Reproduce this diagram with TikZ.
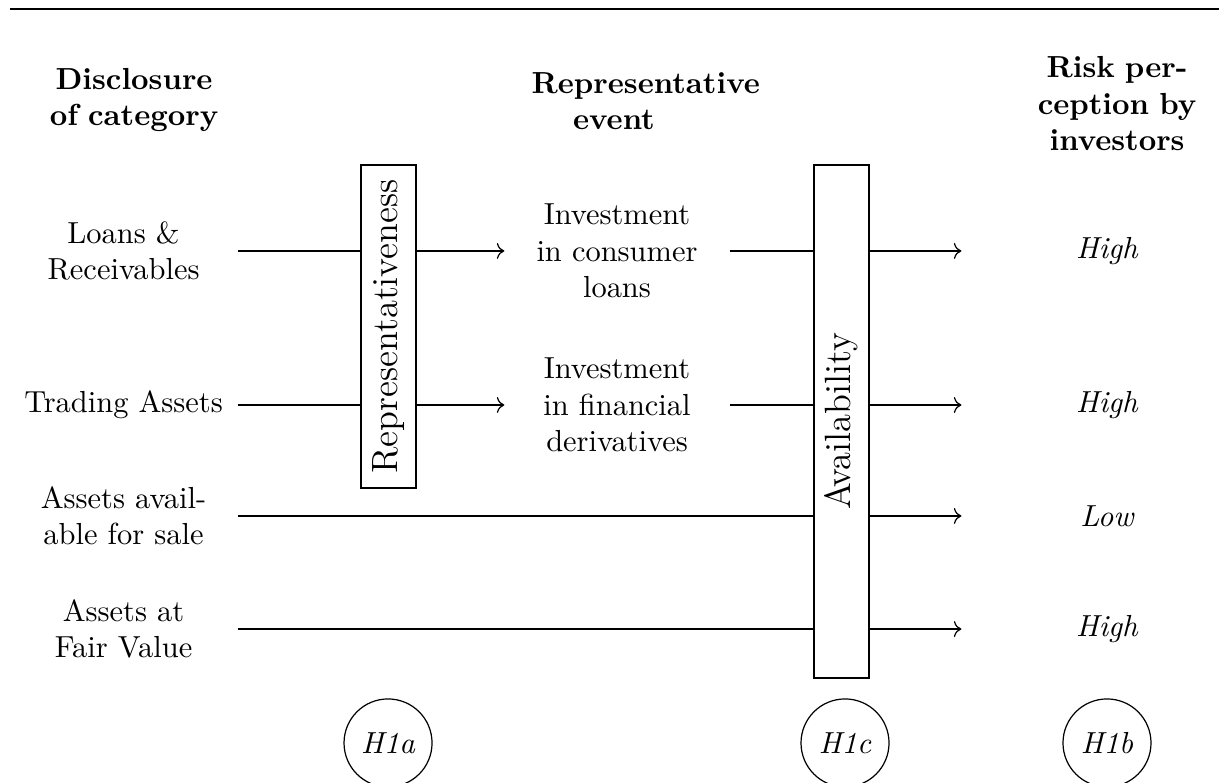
\documentclass[tikz,border=0pt]{standalone}
\usepackage{amsmath,amssymb}
\usepackage{tikz}
\usetikzlibrary{positioning,arrows.meta,calc}

\begin{document}
\begin{tikzpicture}[
    head/.style={text width=1.9cm, align=center, font=\bfseries},
    cat/.style={align=center, minimum width=2.62cm},
    event/.style={align=center, minimum width=2.586cm},
    val/.style={font=\itshape, minimum width=3.347cm},
    bias/.style={draw, rotate=90, font=\large, inner ysep=3.5pt, minimum height=0.635cm},
    hyp/.style={draw, circle, font=\itshape, minimum size=1.016cm, inner sep=1pt}
  ]
  \useasboundingbox (0,0) rectangle (14.071,-9.038);
  \draw (0.115,-0.104) -- (14.071,-0.104);

  % column heads
  \node[head, text width=2.2cm] (hcat) at (1.547,-1.154) {Disclosure\\of category};
  \node[head] (hevt) at (7.087,-1.17) {Representative\\event};
  \node[head] (hrisk) at (12.894,-1.2) {Risk per-\\ception by\\investors};

  % categories
  \node[cat] (loans) at (1.426,-2.897) {Loans \&\\Receivables};
  \node[cat] (trade) at (1.426,-4.675) {Trading Assets};
  \node[cat] (afs) at (1.426,-5.956) {Assets avail-\\able for sale};
  \node[cat] (fv) at (1.426,-7.261) {Assets at\\Fair Value};

  % heuristics
  \node[bias, minimum width=3.728cm] (repr) at (4.485,-3.769) {Representativeness};
  \node[bias, minimum width=5.922cm] (avail) at (9.713,-4.865) {Availability};

  \node[event] (cons) at (7.122,-2.897) {Investment\\in consumer\\loans};
  \node[event] (deriv) at (7.122,-4.675) {Investment\\in financial\\derivatives};

  \node[val] (r1) at (12.778,-2.897) {High};
  \node[val] (r2) at (12.778,-4.675) {High};
  \node[val] (r3) at (12.778,-5.956) {Low};
  \node[val] (r4) at (12.778,-7.261) {High};

  \node[hyp] (h1a) at (4.479,-8.576) {H1a};
  \node[hyp] (h1c) at (9.754,-8.576) {H1c};
  \node[hyp] (h1b) at (12.778,-8.576) {H1b};

  % rows
  \draw (loans.east) -- (loans.east -| repr.north);
  \draw[->] (loans.east -| repr.south) -- (cons.west);
  \draw (cons.east) -- (cons.east -| avail.north);
  \draw[->] (cons.east -| avail.south) -- (r1.west);
  \draw (trade.east) -- (trade.east -| repr.north);
  \draw[->] (trade.east -| repr.south) -- (deriv.west);
  \draw (deriv.east) -- (deriv.east -| avail.north);
  \draw[->] (deriv.east -| avail.south) -- (r2.west);
  \draw (afs.east) -- (afs.east -| avail.north);
  \draw[->] (afs.east -| avail.south) -- (r3.west);
  \draw (fv.east) -- (fv.east -| avail.north);
  \draw[->] (fv.east -| avail.south) -- (r4.west);
\end{tikzpicture}
\end{document}
